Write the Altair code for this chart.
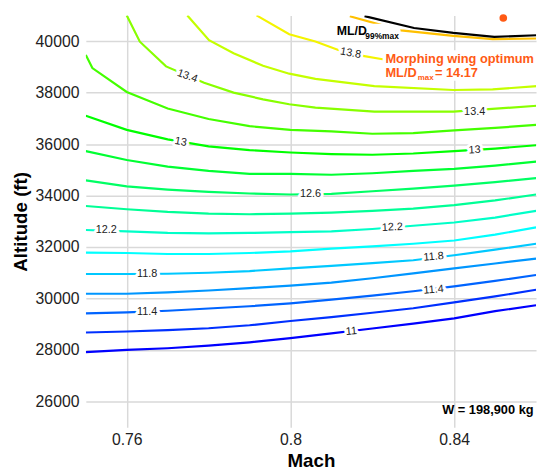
import altair as alt
import pandas as pd

# ---------------- data ----------------
MACH_GRID = [0.75, 0.76, 0.77, 0.78, 0.79, 0.80, 0.81, 0.82, 0.83, 0.84, 0.85, 0.86]

ALT_11_0 = [27916, 28004, 28069, 28168, 28298, 28463, 28643, 28835, 29026, 29229, 29509, 29738]
ALT_11_2 = [28681, 28720, 28769, 28846, 28961, 29126, 29279, 29447, 29623, 29853, 30083, 30339]
ALT_11_4 = [29420, 29459, 29524, 29612, 29700, 29811, 29956, 30110, 30282, 30473, 30684, 30914]
ALT_11_6 = [30186, 30186, 30236, 30313, 30405, 30504, 30619, 30787, 30979, 31170, 31362, 31553]
ALT_11_8 = [30952, 30952, 30964, 31002, 31067, 31170, 31270, 31373, 31488, 31680, 31898, 32127]
ALT_12_0 = [31783, 31768, 31729, 31729, 31768, 31833, 31936, 32024, 32127, 32254, 32484, 32763]
ALT_12_2 = [32664, 32610, 32549, 32533, 32549, 32579, 32610, 32702, 32828, 32955, 33146, 33403]
ALT_12_4 = [33594, 33468, 33364, 33299, 33276, 33299, 33338, 33403, 33491, 33632, 33812, 34042]
ALT_12_6 = [34590, 34360, 34234, 34142, 34080, 34042, 34065, 34168, 34272, 34387, 34525, 34678]
ALT_12_8 = [35727, 35382, 35126, 34961, 34846, 34846, 34808, 34869, 34961, 35038, 35164, 35317]
ALT_13_0 = [37105, 36554, 36186, 35911, 35765, 35673, 35612, 35585, 35635, 35727, 35826, 35957]

MACH_13_2 = [0.75, 0.7516, 0.76, 0.77, 0.78, 0.79, 0.80, 0.81, 0.82, 0.83, 0.84, 0.85, 0.86]
ALT_13_2 = [39464, 38955, 38024, 37385, 36975, 36696, 36554, 36493, 36401, 36427, 36531, 36630, 36745]

MACH_13_4 = [0.760, 0.7632, 0.7696, 0.7789, 0.7861, 0.7933, 0.7997, 0.8061, 0.8205, 0.8398, 0.8602]
ALT_13_4 = [41000, 39980, 39020, 38380, 38000, 37740, 37550, 37420, 37260, 37260, 37490]

MACH_13_6 = [0.7748, 0.7801, 0.7861, 0.7933, 0.7997, 0.8061, 0.8205, 0.8398, 0.8494, 0.8602]
ALT_13_6 = [41000, 40038, 39529, 39043, 38736, 38533, 38254, 38101, 38124, 38254]

MACH_13_8 = [0.7917, 0.7997, 0.8061, 0.8117, 0.8177, 0.8225, 0.8326, 0.8446, 0.8602]
ALT_13_8 = [41000, 40268, 39989, 39655, 39426, 39299, 39223, 39184, 39261]

MACH_14_0 = [0.8145, 0.8234, 0.8270, 0.8398, 0.8494, 0.8602]
ALT_14_0 = [40970, 40574, 40421, 40207, 40077, 40103]

MACH_99 = [0.8181, 0.8302, 0.8398, 0.8498, 0.8602]
ALT_99 = [40973, 40513, 40322, 40168, 40230]

LEVELS = ["11", "11.2", "11.4", "11.6", "11.8", "12", "12.2", "12.4", "12.6",
          "12.8", "13", "13.2", "13.4", "13.6", "13.8", "14"]
COLORS = ["#0000ff", "#0030ff", "#0064ff", "#0096ff", "#00c8ff", "#00ffff",
          "#00ffc8", "#00ff96", "#00ff64", "#00ff32", "#00ff00", "#44ff00",
          "#88ff00", "#c4ff00", "#f4f400", "#ffc000"]

# contour labels: text, Mach, altitude, angle
LABEL_TEXT = ["13.4", "13.4", "13.8", "13", "13", "12.6", "12.2", "12.2",
              "11.8", "11.8", "11.4", "11.4", "11"]
LABEL_MACH = [0.7748, 0.8450, 0.8147, 0.7732, 0.8450, 0.8049, 0.7550, 0.8249,
              0.7650, 0.8350, 0.7650, 0.8350, 0.8149]
LABEL_ALT = [38637, 37258, 39529, 36083, 35765, 34042, 32664, 32763,
             30952, 31614, 29470, 30339, 28720]
LABEL_ANGLE = [20, 0, 10, 10, 357, 0, 0, 357, 0, 355, 0, 355, 355]

# ---------------- build tables ----------------
series = [
    (MACH_GRID, ALT_11_0), (MACH_GRID, ALT_11_2), (MACH_GRID, ALT_11_4),
    (MACH_GRID, ALT_11_6), (MACH_GRID, ALT_11_8), (MACH_GRID, ALT_12_0),
    (MACH_GRID, ALT_12_2), (MACH_GRID, ALT_12_4), (MACH_GRID, ALT_12_6),
    (MACH_GRID, ALT_12_8), (MACH_GRID, ALT_13_0), (MACH_13_2, ALT_13_2),
    (MACH_13_4, ALT_13_4), (MACH_13_6, ALT_13_6), (MACH_13_8, ALT_13_8),
    (MACH_14_0, ALT_14_0),
]
rows = []
for lev, (ms, als) in zip(LEVELS, series):
    for i, (m, a) in enumerate(zip(ms, als)):
        rows.append({"level": lev, "mach": m, "alt": a, "idx": i})
contours = pd.DataFrame(rows)

black = pd.DataFrame({"mach": MACH_99, "alt": ALT_99, "idx": list(range(len(MACH_99)))})

labels = pd.DataFrame({"text": LABEL_TEXT, "mach": LABEL_MACH,
                       "alt": LABEL_ALT, "ang": LABEL_ANGLE})

FONT = "Liberation Sans"
ORANGE = "#ff5a14"

xscale = alt.Scale(domain=[0.75, 0.86], nice=False, zero=False)
yscale = alt.Scale(domain=[25000, 41000], nice=False, zero=False)
xaxis = alt.Axis(values=[0.76, 0.8, 0.84], format="~g", title="Mach",
                 labelPadding=5, titlePadding=4)
yaxis = alt.Axis(values=list(range(26000, 41000, 2000)), format="d",
                 title="Altitude (ft)", labelPadding=7, titlePadding=5)
X = alt.X("mach:Q", scale=xscale, axis=xaxis)
Y = alt.Y("alt:Q", scale=yscale, axis=yaxis)

lines = alt.Chart(contours).mark_line(strokeWidth=2.2, clip=True).encode(
    x=X, y=Y,
    color=alt.Color("level:N", scale=alt.Scale(domain=LEVELS, range=COLORS), legend=None),
    detail="level:N",
    order="idx:Q",
)

# white boxes behind the annotations
boxes = pd.DataFrame({"mach": [0.8225, 0.8110], "mach2": [0.8625, 0.8269],
                      "alt": [38457, 40027], "alt2": [39644, 40678]})
box_layer = alt.Chart(boxes).mark_rect(color="white").encode(
    x=X, x2="mach2:Q", y=Y, y2="alt2:Q")

black_line = alt.Chart(black).mark_line(strokeWidth=2.2, color="black", clip=True).encode(
    x=X, y=Y, order="idx:Q")

halo = alt.Chart(labels).mark_text(font=FONT, fontSize=11, color="white",
                                   stroke="white", strokeWidth=6, strokeJoin="round").encode(
    x=X, y=Y, text="text:N", angle=alt.Angle("ang:Q", scale=None))
label_text = alt.Chart(labels).mark_text(font=FONT, fontSize=11, color="#222222").encode(
    x=X, y=Y, text="text:N", angle=alt.Angle("ang:Q", scale=None))

ann = pd.DataFrame({
    "text": ["ML/D", "99%max", "Morphing wing optimum", "ML/D", "max", "= 14.17", "W = 198,900 kg"],
    "mach": [0.8113, 0.8183, 0.8232, 0.8232, 0.8311, 0.8353, 0.8594],
    "alt": [40237, 40103, 39146, 38610, 38495, 38610, 25515],
    "size": [12.5, 8.5, 13, 13, 8, 13, 13],
    "col": ["black", "black", ORANGE, ORANGE, ORANGE, ORANGE, "black"],
    "al": ["left", "left", "left", "left", "left", "left", "right"],
})
ann_left = alt.Chart(ann[ann["al"] == "left"]).mark_text(
    font=FONT, fontWeight="bold", align="left", baseline="alphabetic").encode(
    x=X, y=Y, text="text:N",
    size=alt.Size("size:Q", scale=None, legend=None),
    color=alt.Color("col:N", scale=None, legend=None))
ann_right = alt.Chart(ann[ann["al"] == "right"]).mark_text(
    font=FONT, fontWeight="bold", align="right", baseline="alphabetic").encode(
    x=X, y=Y, text="text:N",
    size=alt.Size("size:Q", scale=None, legend=None),
    color=alt.Color("col:N", scale=None, legend=None))

dot = alt.Chart(pd.DataFrame({"mach": [0.852], "alt": [40900]})).mark_point(
    filled=True, size=60, color=ORANGE, opacity=1, shape="circle").encode(x=X, y=Y)

chart = alt.layer(lines, box_layer, black_line, halo, label_text,
                  ann_left, ann_right, dot).properties(
    width=457, height=418,
    padding={"left": 79, "top": 4, "right": 2, "bottom": 46},
    autosize=alt.AutoSizeParams(type="none"),
).configure_view(stroke=None).configure_axis(
    domain=False, ticks=False, grid=True, gridColor="#d9d9d9", gridWidth=1.5,
    labelFont=FONT, labelFontSize=16, labelColor="#222222",
    titleFont=FONT, titleFontSize=19, titleFontWeight="bold", titleColor="black",
)

chart.save("out.html", embed_options={"renderer": "svg", "actions": False})
